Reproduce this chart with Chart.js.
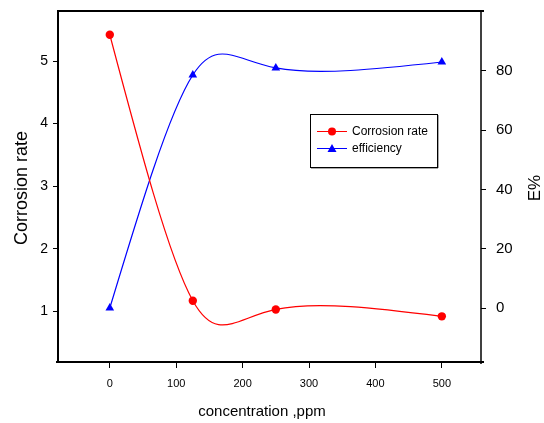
<!DOCTYPE html>
<html>
<head>
<meta charset="utf-8">
<script src="https://cdn.jsdelivr.net/npm/chart.js@4"></script>
<style>
html,body{margin:0;padding:0;background:#fff;}
#wrap{width:544px;height:423px;}
</style>
</head>
<body>
<div id="wrap"><canvas id="c" width="544" height="423"></canvas></div>
<script>
// ---- data ----
const concentrations = [0, 125, 250, 500];
const corrosionRate = [5.42, 1.17, 1.03, 0.92];
const efficiency = [0, 78.6, 81, 83];
const xTicks = [0, 100, 200, 300, 400, 500];
const leftTicks = [1, 2, 3, 4, 5];
const rightTicks = [0, 20, 40, 60, 80];
const seriesNames = ['Corrosion rate', 'efficiency'];
const xTitle = 'concentration ,ppm';
const yLeftTitle = 'Corrosion rate';
const yRightTitle = 'E%';

const FONT = '"Liberation Sans", Arial, sans-serif';

const PLOT = {left: 58, right: 481, top: 11, bottom: 362};

// natural parametric cubic spline (uniform parameter) derivatives
function splineDerivs(v) {
  const n = v.length;
  const a = new Array(n).fill(1), b = new Array(n).fill(4), c = new Array(n).fill(1), r = new Array(n);
  b[0] = 2; b[n - 1] = 2; a[0] = 0; c[n - 1] = 0;
  r[0] = 3 * (v[1] - v[0]);
  r[n - 1] = 3 * (v[n - 1] - v[n - 2]);
  for (let i = 1; i < n - 1; i++) r[i] = 3 * (v[i + 1] - v[i - 1]);
  for (let i = 1; i < n; i++) {
    const w = a[i] / b[i - 1];
    b[i] -= w * c[i - 1];
    r[i] -= w * r[i - 1];
  }
  const D = new Array(n);
  D[n - 1] = r[n - 1] / b[n - 1];
  for (let i = n - 2; i >= 0; i--) D[i] = (r[i] - c[i] * D[i + 1]) / b[i];
  return D;
}

const splinePlugin = {
  id: 'paramSpline',
  beforeDatasetDraw(chart, args) {
    const meta = args.meta;
    const pts = meta.data;
    const n = pts.length;
    if (n < 3) return;
    const Dx = splineDerivs(pts.map(p => p.x));
    const Dy = splineDerivs(pts.map(p => p.y));
    for (let i = 0; i < n; i++) {
      const p = pts[i];
      p.cp1x = p.x - Dx[i] / 3; p.cp1y = p.y - Dy[i] / 3;
      p.cp2x = p.x + Dx[i] / 3; p.cp2y = p.y + Dy[i] / 3;
    }
    meta.dataset._pointsUpdated = true;
    meta.dataset._path = undefined;
  }
};

const framePlugin = {
  id: 'frame',
  afterDraw(chart) {
    const ctx = chart.ctx;
    const a = chart.chartArea;
    ctx.save();
    ctx.strokeStyle = '#000';
    ctx.lineWidth = 2;
    ctx.beginPath();
    ctx.moveTo(a.left, a.bottom);
    ctx.lineTo(a.left, a.top);
    ctx.lineTo(a.right + 3, a.top);
    ctx.stroke();
    ctx.beginPath();
    ctx.moveTo(a.left - 2, a.bottom);
    ctx.lineTo(a.right + 3, a.bottom);
    ctx.stroke();
    ctx.lineWidth = 1.5;
    ctx.beginPath();
    ctx.moveTo(a.right, a.top);
    ctx.lineTo(a.right, a.bottom + 2);
    ctx.stroke();

    // titles
    ctx.fillStyle = '#000';
    ctx.textAlign = 'center';
    ctx.textBaseline = 'middle';
    ctx.font = '15px ' + FONT;
    ctx.fillText(xTitle, 262, 412);
    ctx.save();
    ctx.translate(22, 188);
    ctx.rotate(-Math.PI / 2);
    ctx.font = '18px ' + FONT;
    ctx.fillText(yLeftTitle, 0, 0);
    ctx.restore();
    ctx.save();
    ctx.translate(535, 188);
    ctx.rotate(-Math.PI / 2);
    ctx.font = '17px ' + FONT;
    ctx.fillText(yRightTitle, 0, 0);
    ctx.restore();

    // legend
    const bx = 310, by = 114, bw = 127, bh = 53;
    ctx.fillStyle = '#fff';
    ctx.fillRect(bx, by, bw, bh);
    ctx.fillStyle = '#555';
    ctx.fillRect(bx + 1, by + bh, bw, 1.5);
    ctx.fillRect(bx + bw, by + 1, 1.5, bh);
    ctx.strokeStyle = '#000';
    ctx.lineWidth = 1;
    ctx.strokeRect(bx + 0.5, by + 0.5, bw, bh);
    const items = [
      {label: seriesNames[0], color: '#ff0000', y: 131.5, shape: 'circle'},
      {label: seriesNames[1], color: '#0000ff', y: 148.5, shape: 'tri'}
    ];
    items.forEach(it => {
      ctx.strokeStyle = it.color;
      ctx.fillStyle = it.color;
      ctx.lineWidth = 1;
      ctx.beginPath();
      ctx.moveTo(317, it.y);
      ctx.lineTo(347, it.y);
      ctx.stroke();
      ctx.beginPath();
      if (it.shape === 'circle') {
        ctx.arc(332, it.y, 4, 0, Math.PI * 2);
      } else {
        ctx.moveTo(332, it.y - 4.5);
        ctx.lineTo(336.5, it.y + 3.5);
        ctx.lineTo(327.5, it.y + 3.5);
        ctx.closePath();
      }
      ctx.fill();
      ctx.fillStyle = '#000';
      ctx.textAlign = 'left';
      ctx.font = '12px ' + FONT;
      ctx.fillText(it.label, 352, it.y);
    });
    ctx.restore();
  }
};

const ctx = document.getElementById('c');
new Chart(ctx, {
  type: 'line',
  data: {
    datasets: [
      {
        label: seriesNames[0],
        data: concentrations.map((x, i) => ({x, y: corrosionRate[i]})),
        yAxisID: 'yL',
        borderColor: '#ff0000',
        backgroundColor: '#ff0000',
        borderWidth: 1.2,
        pointRadius: 4.2,
        pointStyle: 'circle',
        pointBorderWidth: 0,
        tension: 0.4,
        fill: false
      },
      {
        label: seriesNames[1],
        data: concentrations.map((x, i) => ({x, y: efficiency[i]})),
        yAxisID: 'yR',
        borderColor: '#0000ff',
        backgroundColor: '#0000ff',
        borderWidth: 1.2,
        pointRadius: 5,
        pointStyle: 'triangle',
        pointBorderWidth: 0,
        tension: 0.4,
        fill: false
      }
    ]
  },
  options: {
    responsive: false,
    animation: false,
    devicePixelRatio: 1,
    layout: {padding: {top: PLOT.top, right: 0, left: 0, bottom: 0}},
    plugins: {legend: {display: false}, tooltip: {enabled: false}},
    scales: {
      x: {
        type: 'linear',
        position: 'bottom',
        min: -78,
        max: 559,
        afterBuildTicks: s => { s.ticks = xTicks.map(v => ({value: v})); },
        afterFit: s => { s.height = 423 - PLOT.bottom; s.paddingLeft = 0; s.paddingRight = 0; },
        grid: {drawOnChartArea: false, tickLength: 6, color: '#000', tickWidth: 1},
        border: {display: false},
        ticks: {color: '#000', font: {family: FONT, size: 11}, padding: 9, maxRotation: 0}
      },
      yL: {
        type: 'linear',
        position: 'left',
        min: 0.19,
        max: 5.8,
        afterBuildTicks: s => { s.ticks = leftTicks.map(v => ({value: v})); },
        afterFit: s => { s.width = PLOT.left; s.paddingTop = 0; s.paddingBottom = 0; },
        grid: {drawOnChartArea: false, tickLength: 5, color: '#000', tickWidth: 1},
        border: {display: false},
        ticks: {color: '#000', font: {family: FONT, size: 14}, padding: 5}
      },
      yR: {
        type: 'linear',
        position: 'right',
        min: -18.2,
        max: 100.2,
        afterBuildTicks: s => { s.ticks = rightTicks.map(v => ({value: v})); },
        afterFit: s => { s.width = 544 - PLOT.right; s.paddingTop = 0; s.paddingBottom = 0; },
        grid: {drawOnChartArea: false, tickLength: 5, color: '#000', tickWidth: 1},
        border: {display: false},
        ticks: {color: '#000', font: {family: FONT, size: 15}, padding: 10}
      }
    }
  },
  plugins: [splinePlugin, framePlugin]
});
</script>
</body>
</html>
